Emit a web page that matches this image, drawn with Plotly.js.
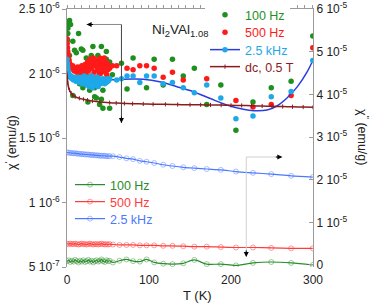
<!DOCTYPE html>
<html><head><meta charset="utf-8">
<script src="https://cdn.plot.ly/plotly-3.0.1.min.js"></script>
<style>html,body{margin:0;padding:0;background:#fff}#chart{width:374px;height:304px}</style>
</head><body><div id="chart"></div>
<script>
// ---- data (T in K; chi' in 1e-6 emu/g, chi'' in 1e-5 emu/g) ----
var g1T = [0.6,1.0,1.0,1.8,3.1,4.3,3.0,7.1,7.1,9.2,11.3,14.1,15.3,17.4,19.3,19.3,21.4,23.5,23.5,25.5,27.6,29.6,30.9,31.6,33.7,33.7,35.8,37.7,39.8,39.8,41.9,41.9,43.8,43.8,48.0,48.0,52.0,52.0,
           55.3,66.4,73.2,80.6,97,106.3,117.3,128.6,141.8,155.3,170.4,187.6,206,226.8,249.1,273.3,299.7];
var g1V = [2.26,2.35,2.31,2.38,2.41,2.38,2.14,2.25,1.83,2.18,2.16,2.31,1.92,2.19,2.18,1.89,2.05,2.12,1.98,1.78,1.87,2.14,2.08,2.21,1.89,1.82,1.81,2.14,2.09,1.76,2.21,1.80,1.87,1.73,2.17,2.11,2.09,1.73,
           1.99,2.08,1.88,2.12,1.89,2.11,1.91,2.11,1.98,2.04,1.76,1.91,1.56,1.78,1.89,1.94,2.29];

var r1T = [0,0.3,0.6,0.9,1.2,1.5,2,2.5,3,4,5,6,7,8,9,10,11,12,13,14,15,16,17,18,19,20,21,22,23,24,25,26,27,28,29,30,31,32,33,34,35,36,37,38,39,40,41,42,43,44,45,46,47,48,49,50,51,52,
           26.5,29.5,33.5,36.5,39.5,42.5,45.5,48.5,
           55.3,60.6,73.2,80.6,88.8,97,106.3,117.3,128.6,141.8,170.4,206,226.8,249.1,273.3,299.7];
var r1V = [2.27,2.23,2.20,2.17,2.15,2.13,2.11,2.10,2.08,2.07,2.05,2.04,2.06,2.03,2.02,2.04,2.03,2.01,2.05,2.02,2.04,2.00,2.03,2.06,2.02,1.99,2.04,2.07,2.01,2.05,2.09,2.02,2.06,2.11,1.98,2.04,2.08,2.12,2.01,2.06,2.10,1.97,2.03,2.09,2.05,2.12,2.00,2.07,2.10,2.03,2.06,2.09,2.01,2.05,2.08,2.03,2.06,2.04,
           2.08,2.05,2.10,2.06,2.00,2.04,2.12,1.99,
           2.06,2.06,2.04,2.03,2.06,2.06,2.04,1.97,2.01,1.95,1.96,1.79,1.74,1.76,1.83,2.20];

var c1T = [0,0.3,0.6,0.9,1.2,1.6,2,2.5,3,4,5,6,7,8,9,10,11,12,13,14,15,16,17,18,19,20,21,22,23,24,25,26,27,28,29,30,31,32,33,34,35,36,37,38,39,40,41,42,43,44,45,46,47,48,49,50,51,52,
           60.6,66.4,73.2,80.6,88.8,97,106.3,117.3,128.6,141.8,155.3,170.4,187.6,206,226.8,249.1,273.3,299.7];
var c1V = [2.11,2.08,2.06,2.04,2.02,2.01,2.00,1.99,1.98,1.97,1.98,1.96,1.97,1.95,1.96,1.97,1.94,1.96,1.95,1.97,1.93,1.96,1.94,1.97,1.92,1.95,1.98,1.93,1.96,1.91,1.94,1.97,1.90,1.95,1.93,1.98,1.89,1.94,1.96,1.91,1.95,1.93,1.97,1.90,1.94,1.96,1.92,1.95,1.93,1.96,1.94,1.92,1.95,1.93,1.96,1.94,1.95,1.96,
           1.95,1.96,1.98,1.98,1.93,1.98,1.98,1.92,1.93,1.89,1.85,1.91,1.81,1.65,1.67,1.82,1.86,2.10];

var fitT = [0,3,7,15,25,34,52,66,80,93,113,134,154,174,195,215,228,244,256,268,281,293,300];
var fitV = [2.006,1.99,1.981,1.971,1.965,1.961,1.952,1.955,1.957,1.955,1.936,1.898,1.859,1.808,1.756,1.722,1.712,1.717,1.748,1.808,1.898,2.014,2.105];

var dcT = [0,0.5,1,2,3,5,7,10,15,20,25,31,40,52,60,70,80,93,105,120,135,150,163,175,188,200,213,225,238,250,263,275,288,300];
var dcV = [2.00,1.96,1.925,1.89,1.872,1.848,1.833,1.82,1.808,1.80,1.793,1.787,1.780,1.774,1.771,1.768,1.766,1.764,1.762,1.761,1.759,1.758,1.757,1.756,1.755,1.753,1.752,1.750,1.748,1.746,1.744,1.742,1.740,1.738];

var lowT = [0,2,4,6,8,10,12,14,16,18,20,22,24,26,28,30,32,34,36,38,40,42,44,46,48,50,52,
            56,64,72.5,80.6,88.8,97,106.3,117.3,128.6,141.8,155.3,170.4,187.6,206,226.8,249.1,273.3,299.7];
var g2V = [0.09,0.11,0.07,0.10,0.08,0.12,0.09,0.06,0.10,0.08,0.11,0.07,0.09,0.12,0.08,0.10,0.06,0.09,0.11,0.08,0.10,0.13,0.09,0.07,0.11,0.09,0.10,
           0.06,0.10,0.13,0.09,0.08,0.13,0.06,0.03,0.02,0.04,0.12,0.02,0.02,-0.01,0.05,0.07,0.05,0.00];
var r2V = [0.50,0.49,0.50,0.49,0.49,0.50,0.49,0.48,0.49,0.50,0.49,0.49,0.48,0.49,0.50,0.49,0.48,0.49,0.49,0.48,0.49,0.50,0.49,0.48,0.49,0.48,0.49,
           0.48,0.47,0.47,0.47,0.46,0.46,0.46,0.45,0.45,0.44,0.43,0.43,0.42,0.41,0.41,0.40,0.39,0.39];
var b2V = [2.64,2.63,2.63,2.62,2.62,2.62,2.61,2.61,2.60,2.60,2.60,2.59,2.59,2.59,2.58,2.58,2.58,2.57,2.57,2.57,2.56,2.56,2.56,2.56,2.55,2.55,2.55,
           2.55,2.53,2.50,2.48,2.44,2.42,2.39,2.35,2.32,2.29,2.27,2.25,2.23,2.19,2.16,2.13,2.09,2.06];

var xTicks = [0,100,200,300];
var y1Ticks = [0.5,1,1.5,2,2.5];
var y1Text = ['5 10<sup>-7</sup>','1 10<sup>-6</sup>','1.5 10<sup>-6</sup>','2 10<sup>-6</sup>','2.5 10<sup>-6</sup>'];
var y2Ticks = [0,1,2,3,4,5,6];
var y2Text = ['0','1 10<sup>-5</sup>','2 10<sup>-5</sup>','3 10<sup>-5</sup>','4 10<sup>-5</sup>','5 10<sup>-5</sup>','6 10<sup>-5</sup>'];

var names = ['100 Hz','500 Hz','2.5 kHz','dc, 0.5 T'];

// ---- styles ----
var FONT = 'Liberation Sans, Arial, sans-serif';
var cG = '#1f8f1f', cR = '#ff1a1a', cC = '#1ea8ea', cFit = '#2a3ee0', cDc = '#8b1c1c';
var cG2 = '#2a8c2a', cR2 = '#ff3b3b', cB2 = '#4a78ff';
function col(c, t){ return '<span style="color:'+c+'">'+t+'</span>'; }

var traces = [
  {x:g1T, y:g1V, mode:'markers', marker:{color:cG, size:5.5}, name:col(cG,names[0]), legend:'legend', yaxis:'y'},
  {x:r1T, y:r1V, mode:'markers', marker:{color:cR, size:5.5}, name:col(cR,names[1]), legend:'legend2', yaxis:'y'},
  {x:fitT, y:fitV, mode:'lines', line:{color:cFit, width:1.5, shape:'spline', smoothing:1}, showlegend:false, yaxis:'y'},
  {x:c1T, y:c1V, mode:'markers', marker:{color:cC, size:5.5}, showlegend:false, yaxis:'y'},
  {x:[null], y:[null], mode:'lines+markers', line:{color:cFit, width:1.5}, marker:{color:cC, size:5.5}, name:col(cC,names[2]), legend:'legend3', xaxis:'x2', yaxis:'y'},
  {x:dcT, y:dcV, mode:'lines+markers', line:{color:cDc, width:1.5, shape:'spline'}, marker:{color:cDc, size:3, symbol:'line-ns-open', line:{color:cDc, width:1}}, name:col(cDc,names[3]), legend:'legend4', yaxis:'y'},
  {x:lowT, y:g2V, mode:'lines+markers', line:{color:cG2, width:1.2, shape:'spline', smoothing:0.8}, marker:{symbol:'circle-open', size:5, color:'rgba(42,140,42,0.45)', line:{width:1}}, name:col(cG2,names[0]), legend:'legend5', yaxis:'y2'},
  {x:lowT, y:r2V, mode:'lines+markers', line:{color:cR2, width:1.2, shape:'spline', smoothing:0.8}, marker:{symbol:'circle-open', size:5, color:'rgba(255,59,59,0.5)', line:{width:1}}, name:col(cR2,names[1]), legend:'legend6', yaxis:'y2'},
  {x:lowT, y:b2V, mode:'lines+markers', line:{color:cB2, width:1.2, shape:'spline', smoothing:0.8}, marker:{symbol:'circle-open', size:5, color:'rgba(74,120,255,0.45)', line:{width:1}}, name:col(cB2,names[2]), legend:'legend7', yaxis:'y2'}
];

var L = 67, PW = 246, T0 = 9, PH = 258;
function px(xp){ return (xp - L)/PW; }
function py(yp){ return (T0 + PH - yp)/PH; }
function leg(xp, yp, bg){
  return {x:px(xp), y:py(yp), xanchor:'left', yanchor:'middle', bgcolor:bg||'rgba(0,0,0,0)', borderwidth:0,
          font:{family:FONT, size:12.5}, itemwidth:30, tracegroupgap:0};
}
var axLine = '#9a9a9a';
var layout = {
  width:374, height:304,
  margin:{l:L, r:374-L-PW, t:T0, b:304-T0-PH, autoexpand:false},
  paper_bgcolor:'#fff', plot_bgcolor:'rgba(0,0,0,0)',
  font:{family:FONT, size:12, color:'#222'},
  showlegend:true,
  legend:leg(205,15,'#fff'),
  legend2:leg(205,32.5),
  legend3:leg(205,50),
  legend4:leg(205,67),
  legend5:leg(70,185),
  legend6:leg(70,202),
  legend7:leg(70,219),
  xaxis:{range:[0,300], tickvals:xTicks, showline:false, ticks:'', showgrid:false, zeroline:false, tickfont:{size:12}, ticklabelstandoff:4},
  xaxis2:{overlaying:'x', side:'top', anchor:'y', range:[0,331], tick0:0, dtick:10, ticks:'outside', ticklen:3, tickcolor:axLine,
          showticklabels:false, showline:true, linecolor:axLine, linewidth:1, showgrid:false, zeroline:false},
  yaxis:{range:[0.5,2.5], tickvals:y1Ticks, ticktext:y1Text, showline:true, linecolor:axLine, ticks:'outside', ticklen:4, tickcolor:axLine,
         showgrid:false, zeroline:false, tickfont:{size:12}},
  yaxis2:{overlaying:'y', side:'right', range:[-0.047,6], tickvals:y2Ticks, ticktext:y2Text, showline:true, linecolor:axLine, ticks:'inside', ticklen:4, tickcolor:axLine,
          showgrid:false, zeroline:false, tickfont:{size:12}},
  shapes:[
    {type:'line', xref:'x', yref:'y', x0:23.9, y0:2.380, x1:66.4, y1:2.380, line:{color:'#8a8a8a', width:1}},
    {type:'line', xref:'x', yref:'y', x0:66.4, y0:2.380, x1:66.4, y1:1.616, line:{color:'#444', width:1}},
    {type:'line', xref:'x', yref:'y2', x0:218.6, y0:2.531, x1:262.6, y1:2.531, line:{color:'#cfcfcf', width:1}},
    {type:'line', xref:'x', yref:'y2', x0:218.6, y0:2.531, x1:218.6, y1:0.19, line:{color:'#cfcfcf', width:1}}
  ],
  annotations:[
    {text:'', x:23.9, y:2.380, xref:'x', yref:'y', showarrow:true, ax:8, ay:0, arrowhead:2, arrowsize:1, arrowwidth:1, arrowcolor:'#000', standoff:0},
    {text:'', x:66.4, y:1.616, xref:'x', yref:'y', showarrow:true, ax:0, ay:-8, arrowhead:2, arrowsize:1, arrowwidth:1, arrowcolor:'#000', standoff:0},
    {text:'', x:262.6, y:2.531, xref:'x', yref:'y2', showarrow:true, ax:-8, ay:0, arrowhead:2, arrowsize:1, arrowwidth:1, arrowcolor:'#000', standoff:0},
    {text:'', x:218.6, y:0.19, xref:'x', yref:'y2', showarrow:true, ax:0, ay:-8, arrowhead:2, arrowsize:1, arrowwidth:1, arrowcolor:'#000', standoff:0},
    {text:'Ni<sub>2</sub>VAl<sub>1.08</sub>', x:px(150), y:py(30), xref:'paper', yref:'paper', xanchor:'left', yanchor:'middle', showarrow:false, font:{size:13.5, color:'#222'}},
    {text:'χ<sup>\'</sup> (emu/g)', x:px(11), y:py(143), xref:'paper', yref:'paper', xanchor:'center', yanchor:'middle', textangle:-90, showarrow:false, font:{size:12.5, color:'#222'}},
    {text:'χ<sup>\'\'</sup> (emu/g)', x:px(363), y:py(137), xref:'paper', yref:'paper', xanchor:'center', yanchor:'middle', textangle:90, showarrow:false, font:{size:12.5, color:'#222'}},
    {text:'T (K)', x:px(197), y:py(295), xref:'paper', yref:'paper', xanchor:'center', yanchor:'middle', showarrow:false, font:{size:13, color:'#222'}}
  ]
};
Plotly.newPlot('chart', traces, layout, {displayModeBar:false, staticPlot:true});
</script></body></html>
